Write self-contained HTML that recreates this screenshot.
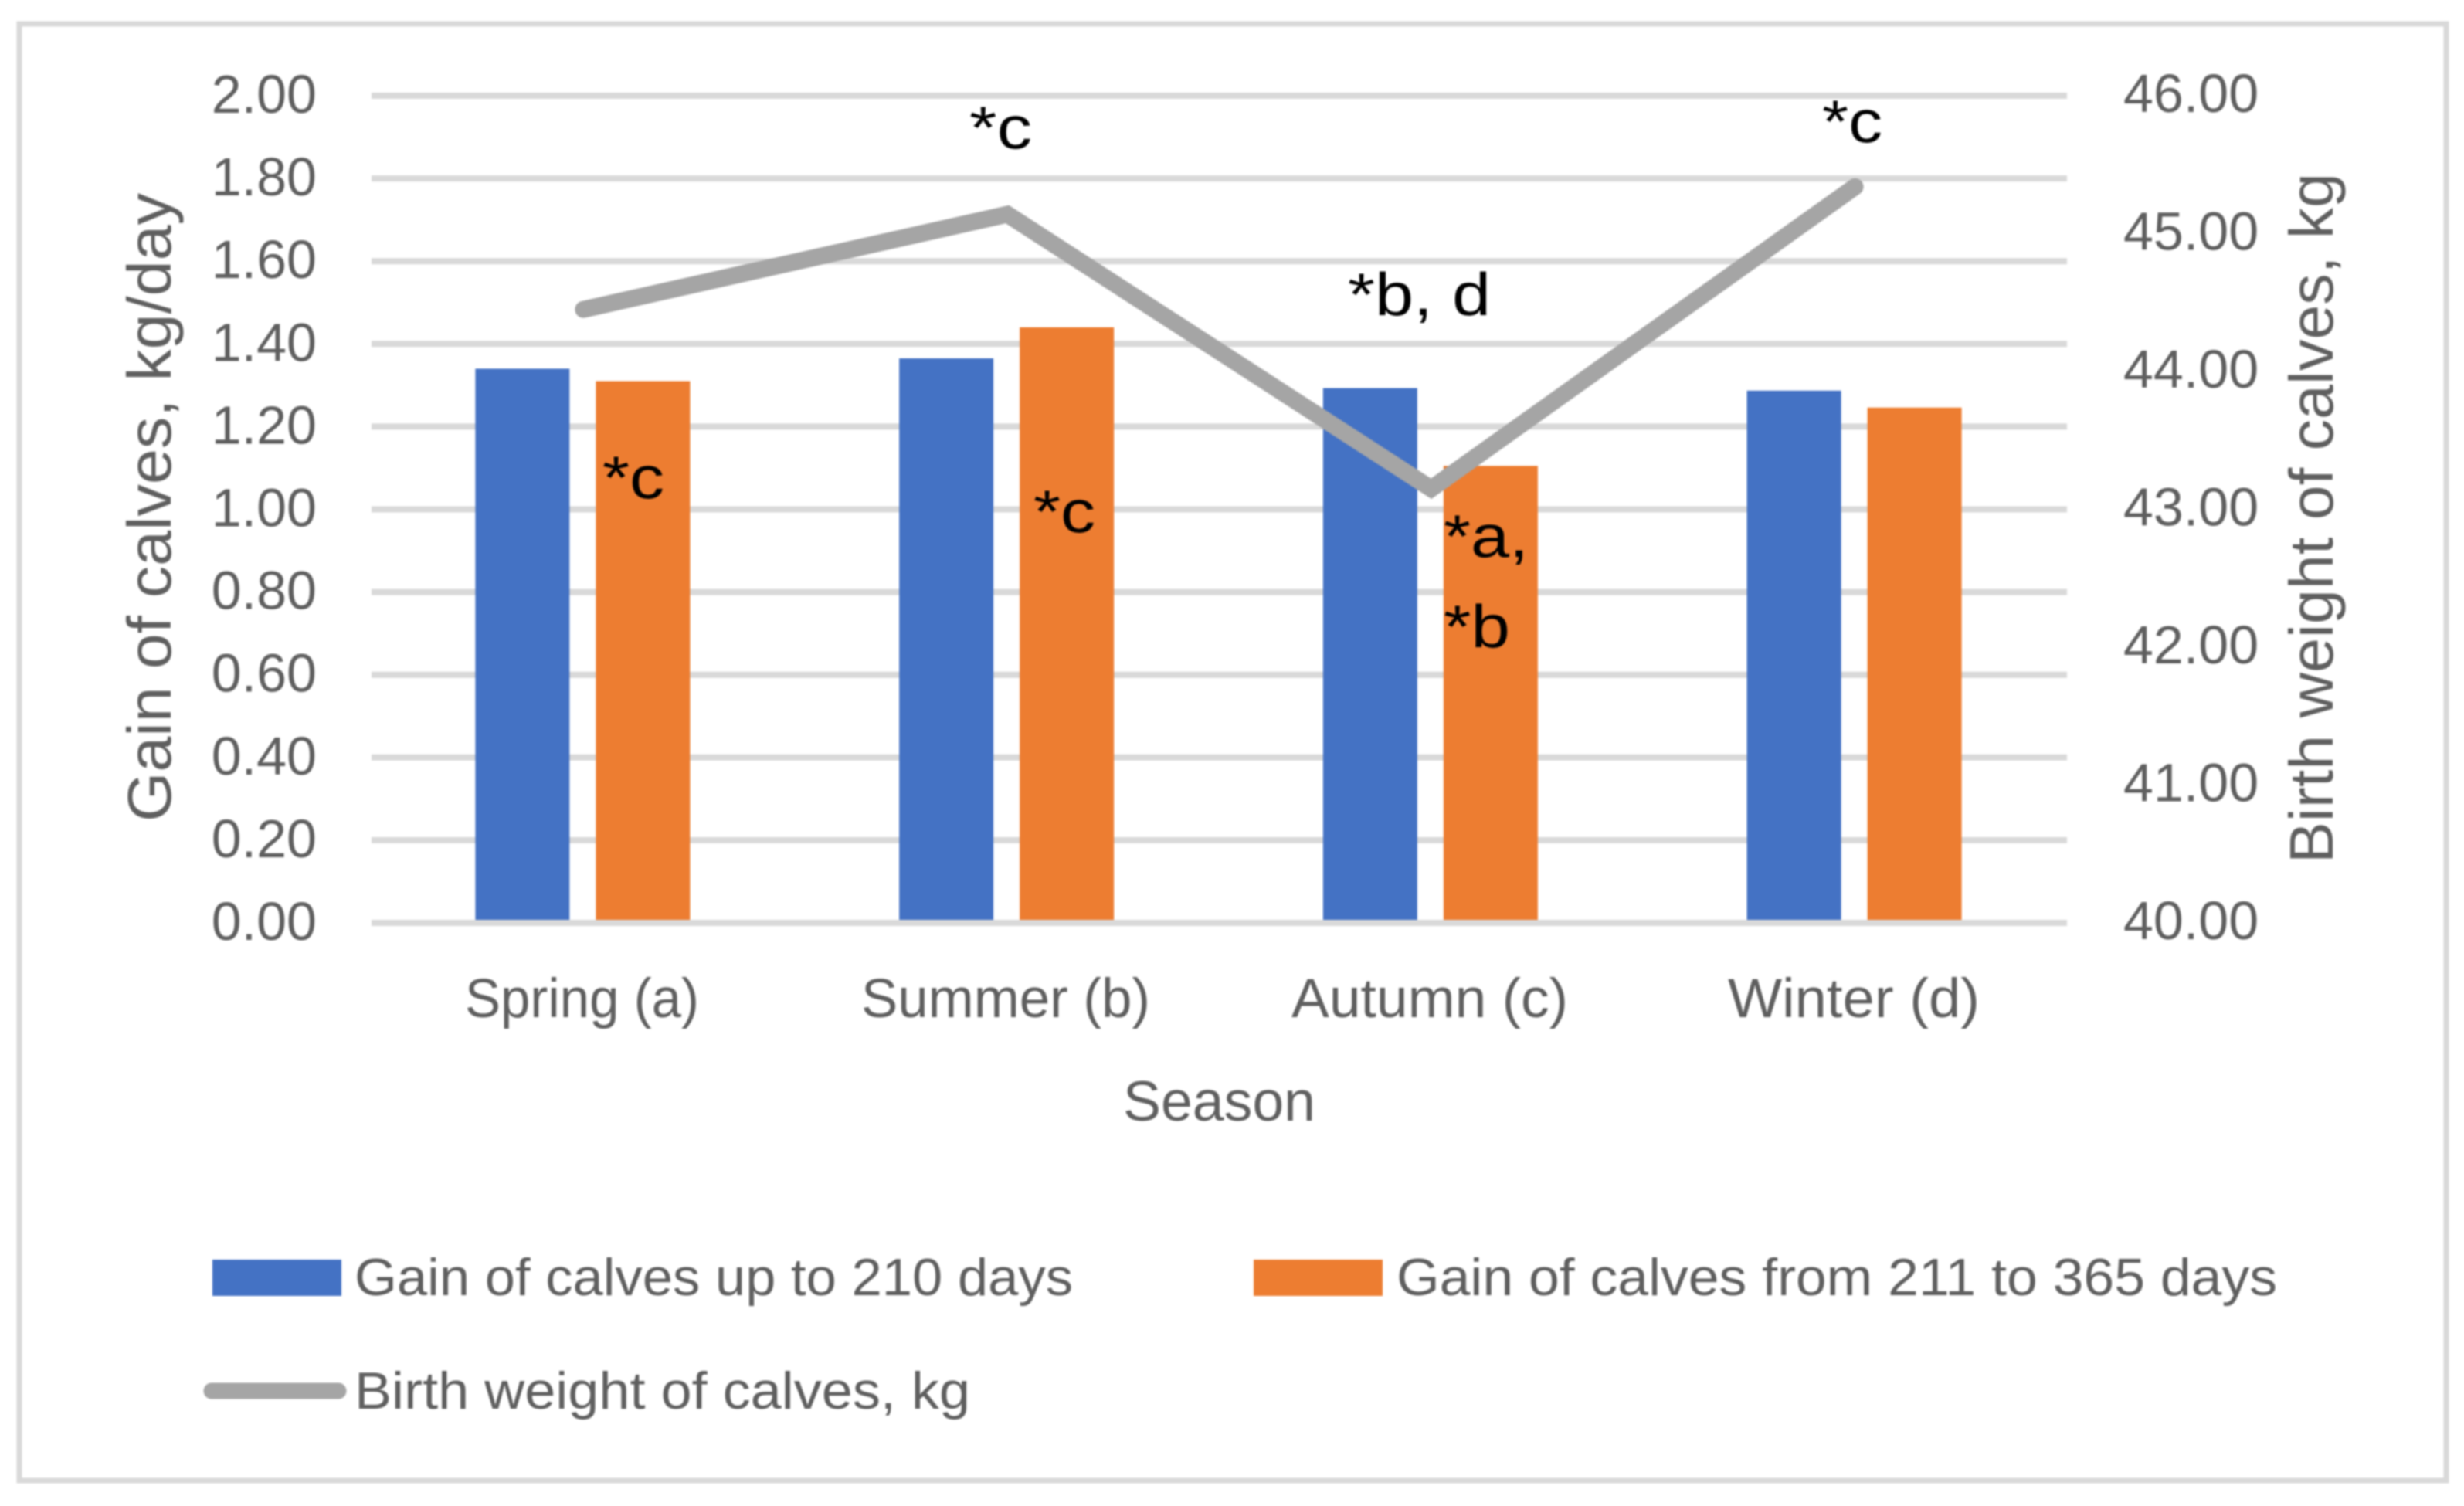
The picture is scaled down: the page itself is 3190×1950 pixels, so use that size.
<!DOCTYPE html>
<html lang="en">
<head>
<meta charset="utf-8">
<title>Gain and birth weight of calves by season</title>
<style>
  html, body { margin: 0; padding: 0; background: #fff; }
  svg { display: block; filter: blur(1px); }
  text { font-family: "Liberation Sans", sans-serif; fill: #5f5f5f; }
  .note { fill: #000; font-size: 78px; }
</style>
</head>
<body>
<svg id="chart" width="3190" height="1950" viewBox="0 0 3190 1950" xmlns="http://www.w3.org/2000/svg">
  <rect x="0" y="0" width="3190" height="1950" fill="#ffffff"/>
  <rect x="25" y="31" width="3142" height="1886" fill="#ffffff" stroke="#d9d9d9" stroke-width="7"/>
  <g id="grid"></g>
  <g id="bars"></g>
  <g id="line"></g>
  <g id="ticks"></g>

  <text x="602" y="1317" font-size="71" textLength="303" lengthAdjust="spacingAndGlyphs">Spring (a)</text>
  <text x="1115" y="1317" font-size="71" textLength="374" lengthAdjust="spacingAndGlyphs">Summer (b)</text>
  <text x="1672" y="1317" font-size="71" textLength="358" lengthAdjust="spacingAndGlyphs">Autumn (c)</text>
  <text x="2237" y="1317" font-size="71" textLength="326" lengthAdjust="spacingAndGlyphs">Winter (d)</text>

  <text transform="translate(221,1064) rotate(-90)" font-size="80" textLength="814" lengthAdjust="spacingAndGlyphs">Gain of calves, kg/day</text>
  <text transform="translate(3020,1118) rotate(-90)" font-size="80" textLength="894" lengthAdjust="spacingAndGlyphs">Birth weight of calves, kg</text>
  <text x="1454" y="1451" font-size="73" textLength="249" lengthAdjust="spacingAndGlyphs">Season</text>

  <rect x="275" y="1631" width="167" height="47" fill="#4472c4"/>
  <text x="459" y="1677" font-size="68" textLength="930" lengthAdjust="spacingAndGlyphs">Gain of calves up to 210 days</text>
  <rect x="1623" y="1631" width="167" height="47" fill="#ed7d31"/>
  <text x="1808" y="1677" font-size="68" textLength="1140" lengthAdjust="spacingAndGlyphs">Gain of calves from 211 to 365 days</text>
  <line x1="274" y1="1801" x2="438" y2="1801" stroke="#a5a5a5" stroke-width="21" stroke-linecap="round"/>
  <text x="459" y="1824" font-size="68" textLength="797" lengthAdjust="spacingAndGlyphs">Birth weight of calves, kg</text>

  <text class="note" x="780" y="645" textLength="80" lengthAdjust="spacingAndGlyphs">*c</text>
  <text class="note" x="1338" y="689" textLength="80" lengthAdjust="spacingAndGlyphs">*c</text>
  <text class="note" x="1255" y="192" textLength="81" lengthAdjust="spacingAndGlyphs">*c</text>
  <text class="note" x="1745" y="408" textLength="185" lengthAdjust="spacingAndGlyphs">*b, d</text>
  <text class="note" x="2359" y="184" textLength="78" lengthAdjust="spacingAndGlyphs">*c</text>
  <text class="note" x="1869" y="721" textLength="110" lengthAdjust="spacingAndGlyphs">*a,</text>
  <text class="note" x="1869" y="838" textLength="86" lengthAdjust="spacingAndGlyphs">*b</text>
</svg>
<script>
const categories = ["Spring (a)", "Summer (b)", "Autumn (c)", "Winter (d)"];
const gainUpTo210 = [1.34, 1.365, 1.293, 1.287];
const gain211To365 = [1.31, 1.44, 1.105, 1.246];
const birthWeight = [44.45, 45.14, 43.15, 45.34];
const leftTicks = [0, 0.2, 0.4, 0.6, 0.8, 1.0, 1.2, 1.4, 1.6, 1.8, 2.0];
const rightTicks = [40, 41, 42, 43, 44, 45, 46];

const NS = "http://www.w3.org/2000/svg";
const plotLeft = 481, plotRight = 2676, plotTop = 124, plotBottom = 1195;
const leftMax = 2, rightMin = 40, rightMax = 46;
const barWidth = 122;

function yLeft(v) { return plotBottom - (v / leftMax) * (plotBottom - plotTop); }
function yRight(v) { return plotBottom - ((v - rightMin) / (rightMax - rightMin)) * (plotBottom - plotTop); }
function xCat(i) { return plotLeft + (i + 0.5) * (plotRight - plotLeft) / categories.length; }
function make(tag, attrs, parent) {
  const el = document.createElementNS(NS, tag);
  for (const k in attrs) el.setAttribute(k, attrs[k]);
  parent.appendChild(el);
  return el;
}

const gridG = document.getElementById("grid");
const barsG = document.getElementById("bars");
const lineG = document.getElementById("line");
const ticksG = document.getElementById("ticks");

leftTicks.forEach(function (t) {
  const y = yLeft(t);
  const g = make("line", { x1: plotLeft, x2: plotRight, y1: y, y2: y, stroke: "#d9d9d9", "stroke-width": 8 }, gridG);
  
  
  const label = make("text", { x: 410, y: y + 22, "font-size": 70, "text-anchor": "end" }, ticksG);
  label.textContent = t.toFixed(2);
  
  
});

rightTicks.forEach(function (t) {
  const label = make("text", { x: 2749, y: yRight(t) + 21, "font-size": 70 }, ticksG);
  label.textContent = t.toFixed(2);
  
  
});

categories.forEach(function (c, i) {
  const cx = xCat(i);
  const barBottom = yLeft(0) - 4;
  const top1 = yLeft(gainUpTo210[i]);
  const b1 = make("rect", { x: cx - 140, y: top1, width: barWidth, height: barBottom - top1, fill: "#4472c4" }, barsG);
  
  
  const top2 = yLeft(gain211To365[i]);
  const b2 = make("rect", { x: cx + 16, y: top2, width: barWidth, height: barBottom - top2, fill: "#ed7d31" }, barsG);
  
  
});

const pts = birthWeight.map(function (v, i) { return xCat(i) + "," + yRight(v); }).join(" ");
const poly = make("polyline", { points: pts, fill: "none", stroke: "#a5a5a5", "stroke-width": 22, "stroke-linecap": "round", "stroke-linejoin": "miter" }, lineG);


</script>
</body>
</html>
